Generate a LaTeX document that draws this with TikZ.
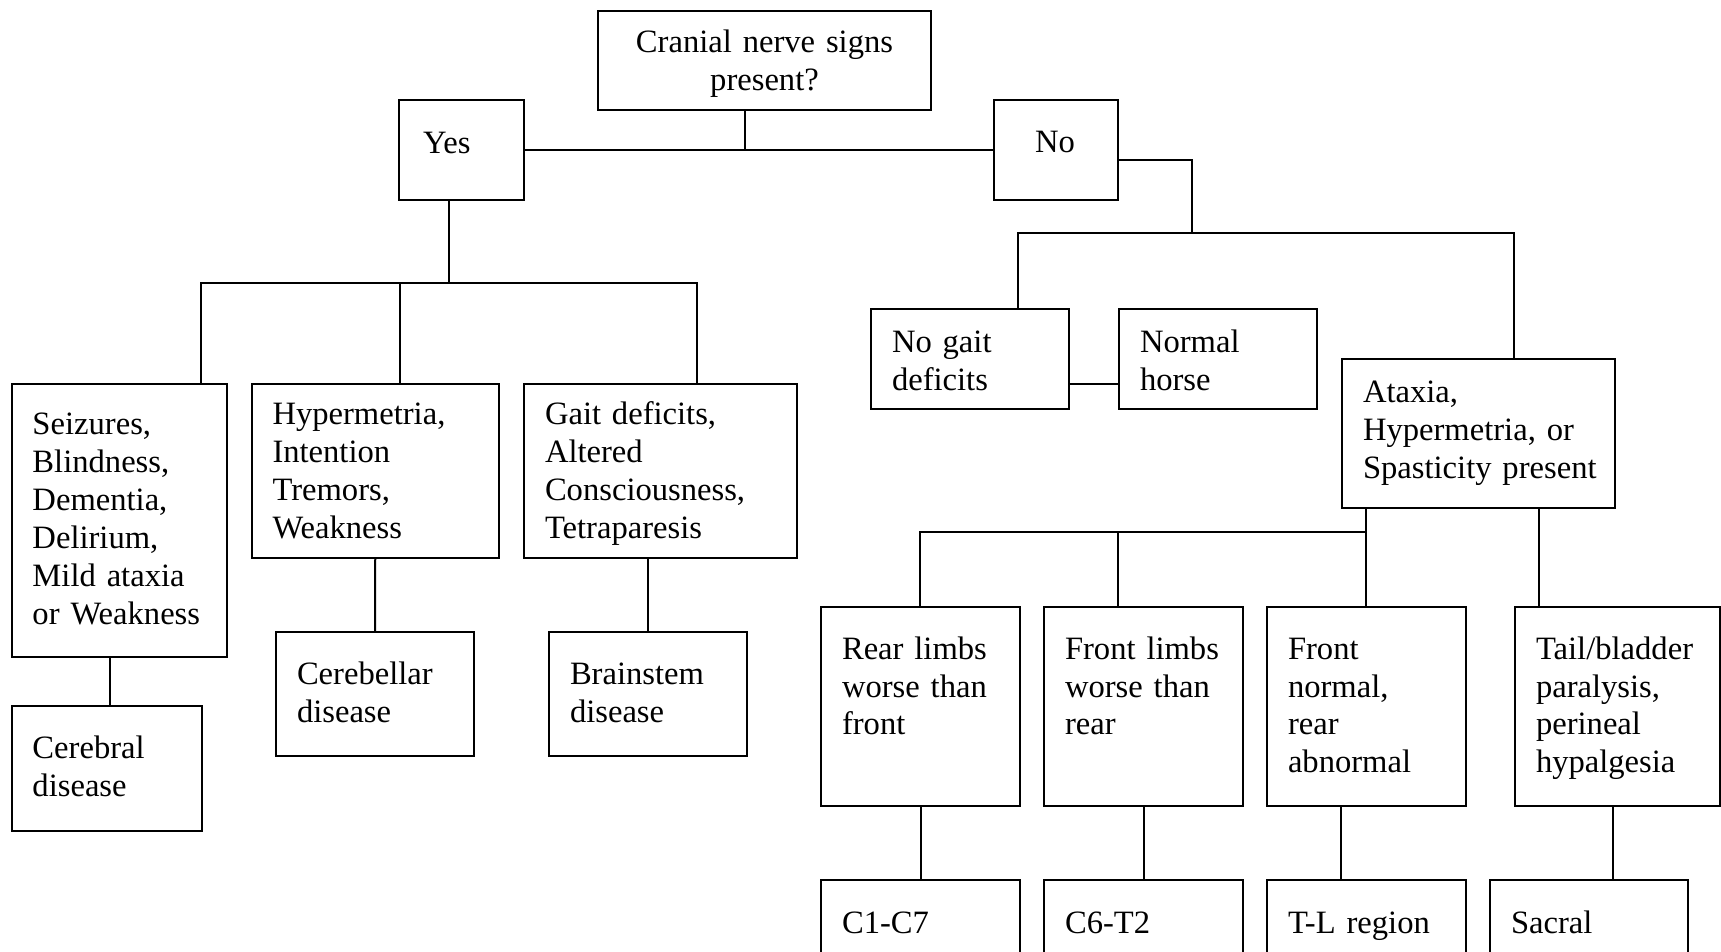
\documentclass[tikz,border=0pt]{standalone}
\usepackage{fontspec}
\setmainfont{Liberation Serif}

\begin{document}
\begin{tikzpicture}[x=0.5pt, y=-0.5pt, line width=1pt, every node/.style={font=\fontsize{16.3}{19}\selectfont}, box/.style={draw, anchor=north west, align=left, inner ysep=0pt, inner xsep=10.5pt}]
\useasboundingbox (0,0) rectangle (1721,952);
\clip (0,0) rectangle (1721,952);
\node[box, align=center, text width=145.5pt, text height=21pt, text depth=28.5pt] (cran) at (597,10) {Cranial nerve signs\\present?};
\node[box, inner xsep=12pt, text width=38.5pt, text height=27pt, text depth=23pt] (yes) at (398,99) {Yes};
\node[box, inner xsep=20.5pt, text width=21pt, text height=26.5pt, text depth=23.5pt] (no) at (993,99) {No};
\node[box, text width=86.75pt, text height=25.5pt, text depth=111pt] (seiz) at (10.5,383) {Seizures,\\Blindness,\\Dementia,\\Delirium,\\Mild~ataxia\\or~Weakness};
\node[box, text width=102.75pt, text height=20.5pt, text depth=66.5pt] (hyper) at (250.5,383) {Hypermetria,\\Intention\\Tremors,\\Weakness};
\node[box, text width=115.5pt, text height=20.5pt, text depth=66.5pt] (gait) at (523,383) {Gait deficits,\\Altered\\Consciousness,\\Tetraparesis};
\node[box, text width=74.25pt, text height=26pt, text depth=36.5pt] (cerebral) at (10.5,705) {Cerebral\\disease};
\node[box, text width=78pt, text height=26pt, text depth=36pt] (cerebellar) at (275,631) {Cerebellar\\disease};
\node[box, text width=78pt, text height=26pt, text depth=36pt] (brainstem) at (548,631) {Brainstem\\disease};
\node[box, text width=78pt, text height=22pt, text depth=28pt] (nogait) at (870,308) {No gait\\deficits};
\node[box, text width=78pt, text height=22pt, text depth=28pt] (normal) at (1118,308) {Normal\\horse};
\node[box, text width=115.5pt, text height=22pt, text depth=52.5pt] (ataxia) at (1341,358) {Ataxia,\\Hypermetria, or\\Spasticity~present};
\node[box, text width=78.5pt, text height=26pt, text depth=73.5pt] (rear) at (820,606) {Rear limbs\\worse than\\front};
\node[box, text width=78.5pt, text height=26pt, text depth=73.5pt] (frontl) at (1043,606) {Front limbs\\worse than\\rear};
\node[box, text width=78.5pt, text height=26pt, text depth=73.5pt] (frontn) at (1266,606) {Front\\normal,\\rear\\abnormal};
\node[box, text width=81.5pt, text height=26pt, text depth=73.5pt] (tail) at (1514,606) {Tail/bladder\\paralysis,\\perineal\\hypalgesia};
\node[box, text width=78.5pt, text height=26.5pt, text depth=48.5pt] (cc) at (820,879) {C1-C7};
\node[box, text width=78.5pt, text height=26.5pt, text depth=48.5pt] (ct) at (1043,879) {C6-T2};
\node[box, text width=78.5pt, text height=26.5pt, text depth=48.5pt] (tl) at (1266,879) {T-L region};
\node[box, text width=78pt, text height=26.5pt, text depth=48.5pt] (sacral) at (1489,879) {Sacral};
\coordinate (s0) at (745,149);
\coordinate (s1) at (449,283);
\coordinate (s2) at (201,283);
\coordinate (s3) at (400,283);
\coordinate (s4) at (697,283);
\coordinate (s5) at (110,680);
\coordinate (s6) at (1192,233);
\coordinate (s7) at (1018,233);
\coordinate (s8) at (1514,233);
\coordinate (s9) at (1366,532);
\coordinate (s10) at (920,532);
\coordinate (s11) at (1118,532);
\coordinate (s12) at (1539,532);
\coordinate (s13) at (1341,840);
\coordinate (s14) at (1613,840);
\draw (cran.south -| s0) -- (s0);
\draw (yes.east) -- (no.west);
\draw (yes.south -| s1) -- (s1);
\draw (seiz.north -| s2) -- (s2) -- (s4) -- (gait.north -| s4);
\draw (s3) -- (hyper.north -| s3);
\draw (seiz.south -| s5) -- (cerebral.north -| s5);
\draw (hyper.south) -- (cerebellar.north);
\draw (gait.south -| brainstem.north) -- (brainstem.north);
\draw ([yshift=-5pt]no.east) -| (s6);
\draw (nogait.north -| s7) -- (s7) -- (s8) -- (ataxia.north -| s8);
\draw ([yshift=-12.5pt]nogait.east) -- ([yshift=-12.5pt]normal.west);
\draw (ataxia.south -| s9) -- (s9) -- (s10) -- (rear.north -| s10);
\draw (s11) -- (frontl.north -| s11);
\draw (s9) -- (frontn.north -| s9);
\draw (ataxia.south -| s12) -- (tail.north -| s12);
\draw (rear.south) -- (cc.north);
\draw (frontl.south) -- (ct.north);
\draw (frontn.south -| s13) -- (tl.north -| s13);
\draw (tail.south -| s14) -- (sacral.north -| s14);
\end{tikzpicture}
\end{document}
